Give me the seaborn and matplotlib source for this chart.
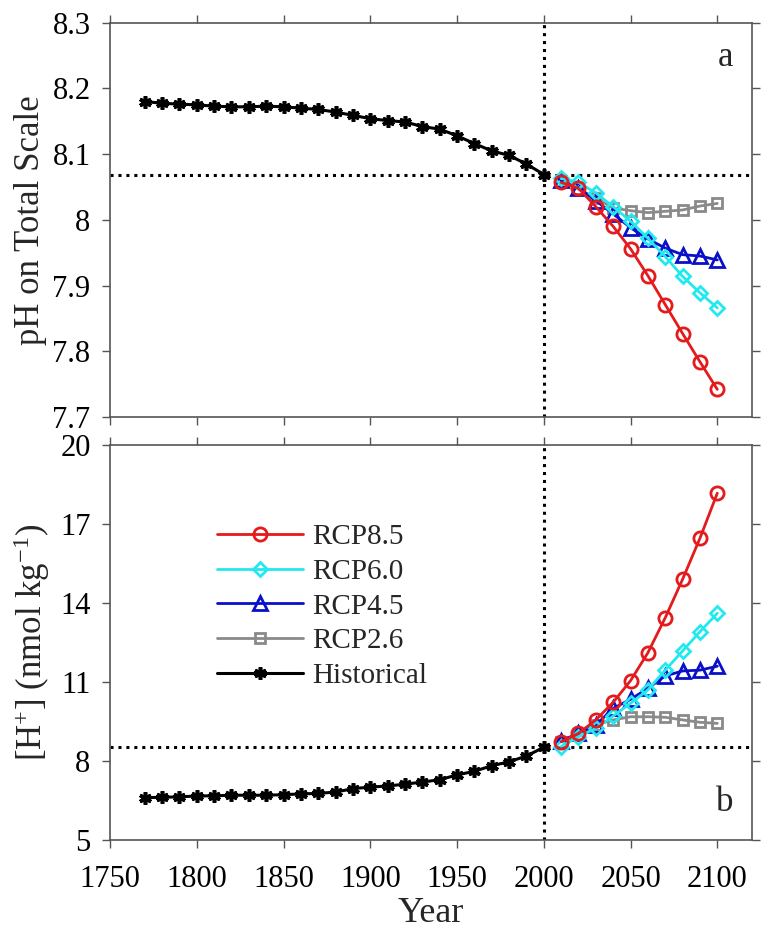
import numpy as np
import pandas as pd
import matplotlib
matplotlib.use("Agg")
import matplotlib.pyplot as plt
import seaborn as sns
from matplotlib.ticker import FuncFormatter

# ---------------- data ----------------
years_hist = list(range(1770, 2001, 10))
ph_hist = [8.180, 8.1775, 8.176, 8.175, 8.173, 8.172, 8.172, 8.173, 8.172, 8.170,
           8.168, 8.164, 8.159, 8.154, 8.151, 8.149, 8.142, 8.138, 8.128, 8.116,
           8.105, 8.098, 8.085, 8.069]
h_hist = [6.61, 6.62, 6.64, 6.67, 6.68, 6.70, 6.70, 6.70, 6.72, 6.75,
          6.77, 6.82, 6.95, 7.01, 7.05, 7.12, 7.20, 7.29, 7.47, 7.61,
          7.82, 7.97, 8.19, 8.52]

years_proj = list(range(2010, 2101, 10))
ph_85 = [8.057, 8.048, 8.020, 7.990, 7.956, 7.915, 7.871, 7.827, 7.784, 7.742]
ph_60 = [8.063, 8.057, 8.041, 8.020, 7.998, 7.972, 7.944, 7.914, 7.889, 7.866]
ph_45 = [8.060, 8.049, 8.029, 8.009, 7.988, 7.971, 7.957, 7.947, 7.945, 7.939]
ph_26 = [8.059, 8.047, 8.033, 8.018, 8.014, 8.011, 8.013, 8.015, 8.021, 8.025]

h_85 = [8.73, 9.05, 9.56, 10.23, 11.05, 12.11, 13.44, 14.90, 16.46, 18.17]
h_60 = [8.55, 8.92, 9.24, 9.71, 10.19, 10.70, 11.45, 12.18, 12.91, 13.61]
h_45 = [8.77, 9.05, 9.37, 10.00, 10.34, 10.76, 11.23, 11.42, 11.45, 11.60]
h_26 = [8.73, 8.99, 9.37, 9.56, 9.68, 9.68, 9.66, 9.56, 9.47, 9.43]

ph_ref = 8.069
h_ref = 8.52
year_ref = 2000

x_ticks = [1750, 1800, 1850, 1900, 1950, 2000, 2050, 2100]
ph_ticks = [7.7, 7.8, 7.9, 8.0, 8.1, 8.2, 8.3]
h_ticks = [5, 8, 11, 14, 17, 20]

scenarios = ["RCP8.5", "RCP6.0", "RCP4.5", "RCP2.6"]

# ---------------- style ----------------
sns.set_style("ticks")
plt.rcParams["font.family"] = ["Liberation Serif", "DejaVu Serif"]
plt.rcParams["mathtext.fontset"] = "custom"
plt.rcParams["mathtext.rm"] = "Liberation Serif"
plt.rcParams["mathtext.it"] = "Liberation Serif:italic"
plt.rcParams["mathtext.bf"] = "Liberation Serif:bold"

spine_col = "#555555"

styles = {
    "RCP8.5": dict(color="#E41A1C", marker="o", ms=9.5),
    "RCP6.0": dict(color="#22E8F0", marker="D", ms=7.5),
    "RCP4.5": dict(color="#0A10C8", marker="^", ms=10),
    "RCP2.6": dict(color="#8A8A8A", marker="s", ms=7.5),
}

fig = plt.figure(figsize=(7.68, 9.41), dpi=100)
ax1 = fig.add_axes([110 / 768, 1 - 417 / 941, 642 / 768, (417 - 22.7) / 941])
ax2 = fig.add_axes([110 / 768, 1 - 840 / 941, 642 / 768, (840 - 445) / 941])

proj_ph = {"RCP8.5": ph_85, "RCP6.0": ph_60, "RCP4.5": ph_45, "RCP2.6": ph_26}
proj_h = {"RCP8.5": h_85, "RCP6.0": h_60, "RCP4.5": h_45, "RCP2.6": h_26}

hist_kw = dict(color="black", marker=(6, 2, 0), markersize=9, markeredgewidth=2.6,
               markeredgecolor="black", linewidth=2.2)

for ax, hist_vals, proj in [(ax1, ph_hist, proj_ph), (ax2, h_hist, proj_h)]:
    ax.axvline(year_ref, color="black", linestyle=(0, (1, 1.6)), linewidth=2.2, zorder=1)
    ref = ph_ref if ax is ax1 else h_ref
    ax.axhline(ref, color="black", linestyle=(0, (1, 1.6)), linewidth=2.2, zorder=1)
    sns.lineplot(x=years_hist, y=hist_vals, ax=ax, label="Historical", legend=False,
                 zorder=3, **hist_kw)
    for name in ["RCP2.6", "RCP4.5", "RCP6.0", "RCP8.5"]:
        st = styles[name]
        sns.lineplot(x=years_proj, y=proj[name], ax=ax, label=name, legend=False,
                     color=st["color"], marker=st["marker"], markersize=st["ms"],
                     markerfacecolor="none", markeredgecolor=st["color"],
                     markeredgewidth=2.0, linewidth=2.0, zorder=4)

for ax in (ax1, ax2):
    ax.set_xlim(1750, 2120)
    ax.set_xticks(x_ticks)
    ax.tick_params(axis="both", which="both", direction="out", length=6, width=1,
                   colors="black", labelsize=22, top=True, right=True,
                   labeltop=False, labelright=False)
    ax.tick_params(axis="x", pad=12)
    ax.tick_params(axis="y", pad=8)
    for sp in ax.spines.values():
        sp.set_visible(True)
        sp.set_color(spine_col)
        sp.set_linewidth(1.2)
    ax.tick_params(color=spine_col)

ax1.set_ylim(7.7, 8.3)
ax1.set_yticks(ph_ticks)
ax1.yaxis.set_major_formatter(FuncFormatter(lambda v, p: f"{v:g}"))
ax1.tick_params(labelbottom=False)
ax1.set_xlabel("")
ax1.set_ylabel("pH on Total Scale", fontsize=25)
ax1.yaxis.set_label_coords(-0.098, 0.5)

ax2.set_ylim(5, 20)
ax2.set_yticks(h_ticks)
ax2.set_xlabel("Year", fontsize=26, labelpad=2)
ax2.set_ylabel("[H$^{+}$] (nmol kg$^{-1}$)", fontsize=25)
ax2.yaxis.set_label_coords(-0.09, 0.5)

ax1.text(0.958, 0.913, "a", transform=ax1.transAxes, fontsize=25,
         ha="center", va="center")
ax2.text(0.958, 0.094, "b", transform=ax2.transAxes, fontsize=25,
         ha="center", va="center")

# legend in bottom panel
h_all, l_all = ax2.get_legend_handles_labels()
lookup = dict(zip(l_all, h_all))
order = scenarios + ["Historical"]
leg = ax2.legend([lookup[k] for k in order], order, loc="upper left",
                 bbox_to_anchor=(0.167, 0.80), frameon=False, fontsize=21,
                 handlelength=2.95, handletextpad=0.3, labelspacing=0.28,
                 borderaxespad=0, borderpad=0, numpoints=1)

fig.savefig("out.png", dpi=100)
